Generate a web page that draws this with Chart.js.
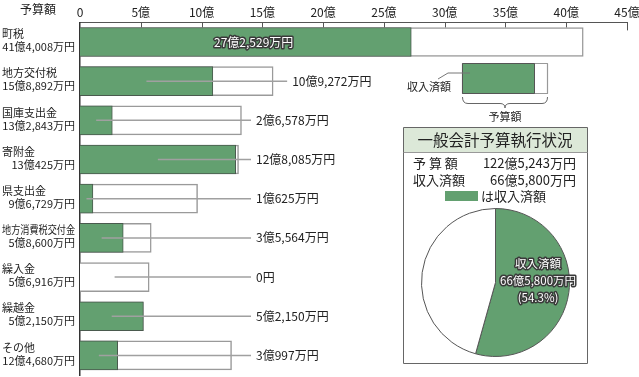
<!DOCTYPE html>
<html>
<head>
<meta charset="utf-8">
<script src="https://cdn.jsdelivr.net/npm/chart.js@4.4.1/dist/chart.umd.min.js"></script>
<style>
  body { margin: 0; background: #fff; }
  #wrap { position: relative; width: 639px; height: 377px; }
  #pieBox { position: absolute; left: 405px; top: 208px; width: 180px; height: 149px; }
</style>
</head>
<body>
<div id="wrap">
  <canvas id="barChart" width="639" height="377"></canvas>
  <div id="pieBox"><canvas id="pieChart" width="180" height="149"></canvas></div>
</div>
<script>
// data (万円)
const categories = ['町税', '地方交付税', '国庫支出金', '寄附金', '県支出金', '地方消費税交付金', '繰入金', '繰越金', 'その他'];
const budget = [414008, 158892, 132843, 130425, 96729, 58600, 56916, 52150, 124680];
const received = [272529, 109272, 26578, 128085, 10625, 35564, 0, 52150, 30997];
const axisTicks = [0, 5, 10, 15, 20, 25, 30, 35, 40, 45]; // 億

const GREEN = '#63a070';
const FONT = '"Noto Sans CJK JP", "Noto Sans", sans-serif';
Chart.defaults.font.family = FONT;
Chart.defaults.color = '#222';

const totalBudget = budget.reduce((a, b) => a + b, 0);
const totalReceived = received.reduce((a, b) => a + b, 0);

function fmt(v) {
    if (v === 0) return '0円';
    const oku = Math.floor(v / 10000);
    const man = v % 10000;
    let s = '';
    if (oku) s += oku + '億';
    if (man) s += man.toLocaleString('en-US') + '万';
    return s + '円';
}

function outlined(ctx, text, x, y) {
    ctx.lineJoin = 'round';
    ctx.lineWidth = 3;
    ctx.strokeStyle = '#3a3a3a';
    ctx.strokeText(text, x, y);
    ctx.fillStyle = '#fff';
    ctx.fillText(text, x, y);
}

// labels, leaders, legend, summary box
const decorPlugin = {
    id: 'decor',
    afterDraw(chart) {
        const ctx = chart.ctx;
        const xs = chart.scales.x;
        const ys = chart.scales.y;
        const top = chart.chartArea.top;
        ctx.save();

        // inward tick marks on the top axis
        ctx.strokeStyle = '#555';
        ctx.lineWidth = 1;
        axisTicks.forEach((t, i) => {
            if (t === 0) return;
            const x = Math.round(xs.getPixelForValue(t)) + 0.5;
            ctx.beginPath();
            ctx.moveTo(x, top);
            ctx.lineTo(x, top + (i === axisTicks.length - 1 ? 8 : 5));
            ctx.stroke();
        });

        ctx.fillStyle = '#222';
        ctx.font = '12px ' + FONT;
        ctx.textBaseline = 'middle';
        ctx.textAlign = 'left';
        ctx.fillText('予算額', 20, 9);

        // left labels
        ctx.font = '11px ' + FONT;
        categories.forEach((c, i) => {
            const yc = ys.getPixelForValue(i);
            ctx.textAlign = 'left';
            ctx.fillStyle = '#222';
            ctx.fillText(c, 2, yc - 8, 73);
            ctx.textAlign = 'right';
            ctx.fillText(fmt(budget[i]), 75, yc + 5, 73);
        });

        // right labels with leader lines
        categories.forEach((c, i) => {
            const yc = ys.getPixelForValue(i);
            const x0 = xs.getPixelForValue(0);
            const xr = xs.getPixelForValue(received[i] / 10000);
            const xb = xs.getPixelForValue(budget[i] / 10000);
            ctx.font = '12px ' + FONT;
            ctx.textBaseline = 'middle';
            if (i === 0) {
                ctx.textAlign = 'center';
                outlined(ctx, fmt(received[i]), (x0 + xr) / 2 + 8, yc);
                return;
            }
            const start = received[i] > 0 ? (x0 + xr) / 2 : (x0 + xb) / 2;
            const labelX = xb > 250 ? xb + 19 : 256;
            ctx.strokeStyle = '#a0a0a0';
            ctx.lineWidth = 1.5;
            ctx.beginPath();
            ctx.moveTo(start, yc);
            ctx.lineTo(labelX - 5, yc);
            ctx.stroke();
            ctx.textAlign = 'left';
            ctx.fillStyle = '#222';
            ctx.fillText(fmt(received[i]), labelX, yc);
        });

        // small legend illustration
        ctx.fillStyle = '#fff';
        ctx.strokeStyle = '#999';
        ctx.lineWidth = 1.2;
        ctx.fillRect(462.5, 63.5, 85, 30);
        ctx.strokeRect(462.5, 63.5, 85, 30);
        ctx.fillStyle = GREEN;
        ctx.fillRect(462.5, 63.5, 72, 30);
        ctx.strokeStyle = '#555';
        ctx.lineWidth = 1;
        ctx.strokeRect(462.5, 63.5, 72, 30);
        ctx.strokeStyle = '#777';
        ctx.beginPath();
        ctx.moveTo(438, 79);
        ctx.lineTo(448, 73);
        ctx.lineTo(470, 73);
        ctx.stroke();
        ctx.fillStyle = '#222';
        ctx.font = '11px ' + FONT;
        ctx.textAlign = 'left';
        ctx.fillText('収入済額', 407, 87);
        // brace
        ctx.strokeStyle = '#666';
        ctx.beginPath();
        ctx.moveTo(462.5, 97);
        ctx.quadraticCurveTo(462.5, 103.5, 468, 103.5);
        ctx.lineTo(500, 103.5);
        ctx.quadraticCurveTo(505, 103.5, 505, 108);
        ctx.quadraticCurveTo(505, 103.5, 510, 103.5);
        ctx.lineTo(542, 103.5);
        ctx.quadraticCurveTo(547.5, 103.5, 547.5, 97);
        ctx.stroke();
        ctx.textAlign = 'center';
        ctx.fillText('予算額', 505, 117);

        // summary box
        ctx.fillStyle = '#dce8d8';
        ctx.fillRect(403.5, 127.5, 184, 25);
        ctx.strokeStyle = '#666';
        ctx.lineWidth = 1;
        ctx.strokeRect(403.5, 127.5, 184, 236);
        ctx.strokeStyle = '#999';
        ctx.beginPath();
        ctx.moveTo(403.5, 152.5);
        ctx.lineTo(587.5, 152.5);
        ctx.stroke();
        ctx.fillStyle = '#222';
        ctx.font = '15.5px ' + FONT;
        ctx.textAlign = 'center';
        ctx.fillText('一般会計予算執行状況', 495, 140);
        ctx.font = '13px ' + FONT;
        ctx.textAlign = 'left';
        ctx.fillText('予 算 額', 413, 163);
        ctx.fillText('収入済額', 413, 180);
        ctx.textAlign = 'right';
        ctx.fillText(fmt(totalBudget), 576, 163);
        ctx.fillText(fmt(totalReceived), 576, 180);
        ctx.fillStyle = GREEN;
        ctx.fillRect(445, 191, 33, 10);
        ctx.fillStyle = '#222';
        ctx.textAlign = 'left';
        ctx.fillText('は収入済額', 481, 196);

        ctx.restore();
    }
};

new Chart(document.getElementById('barChart'), {
    type: 'bar',
    data: {
        labels: categories,
        datasets: [
            {
                label: '収入済額',
                data: received.map(v => v / 10000),
                backgroundColor: GREEN,
                borderColor: '#4a5a4e',
                borderWidth: 1,
                grouped: false,
                barThickness: 29
            },
            {
                label: '予算額',
                data: budget.map(v => v / 10000),
                backgroundColor: '#fff',
                borderColor: '#9a9a9a',
                borderWidth: 1.5,
                grouped: false,
                barThickness: 29
            }
        ]
    },
    options: {
        indexAxis: 'y',
        responsive: false,
        animation: false,
        devicePixelRatio: 1,
        layout: { padding: { left: 80, right: 12, top: 2, bottom: 2 } },
        scales: {
            x: {
                position: 'top',
                min: 0,
                max: 45,
                grid: { display: false, drawTicks: false },
                border: { display: true, color: '#555', width: 1 },
                afterFit(scale) { scale.paddingRight = 0; scale.paddingLeft = 0; },
                ticks: {
                    stepSize: 5,
                    padding: 3,
                    maxRotation: 0,
                    font: { size: 12 },
                    color: '#222',
                    callback: v => (v === 0 ? '0' : v + '億')
                }
            },
            y: {
                grid: { display: false, drawTicks: false },
                border: { display: true, color: '#333', width: 1.5 },
                ticks: { display: false }
            }
        },
        plugins: { legend: { display: false }, tooltip: { enabled: false } }
    },
    plugins: [decorPlugin]
});

// pie label plugin
const pieLabel = {
    id: 'pieLabel',
    afterDraw(chart) {
        const arc = chart.getDatasetMeta(0).data[0];
        const mid = (arc.startAngle + arc.endAngle) / 2;
        const r = arc.outerRadius * 0.58;
        const x = arc.x + Math.cos(mid) * r;
        const y = arc.y + Math.sin(mid) * r - 8;
        const ctx = chart.ctx;
        ctx.save();
        ctx.font = '11.5px ' + FONT;
        ctx.textAlign = 'center';
        ctx.textBaseline = 'middle';
        const pct = (totalReceived / totalBudget * 100).toFixed(1);
        outlined(ctx, '収入済額', x, y - 17);
        outlined(ctx, fmt(totalReceived), x, y);
        outlined(ctx, '(' + pct + '%)', x, y + 17);
        ctx.restore();
    }
};

new Chart(document.getElementById('pieChart'), {
    type: 'pie',
    data: {
        labels: ['収入済額', '未収入'],
        datasets: [{
            data: [totalReceived, totalBudget - totalReceived],
            backgroundColor: [GREEN, '#fff'],
            borderColor: '#555',
            borderWidth: 1
        }]
    },
    options: {
        responsive: false,
        animation: false,
        devicePixelRatio: 1,
        layout: { padding: { left: 16, right: 15, top: 0, bottom: 0 } },
        plugins: { legend: { display: false }, tooltip: { enabled: false } }
    },
    plugins: [pieLabel]
});
</script>
</body>
</html>
